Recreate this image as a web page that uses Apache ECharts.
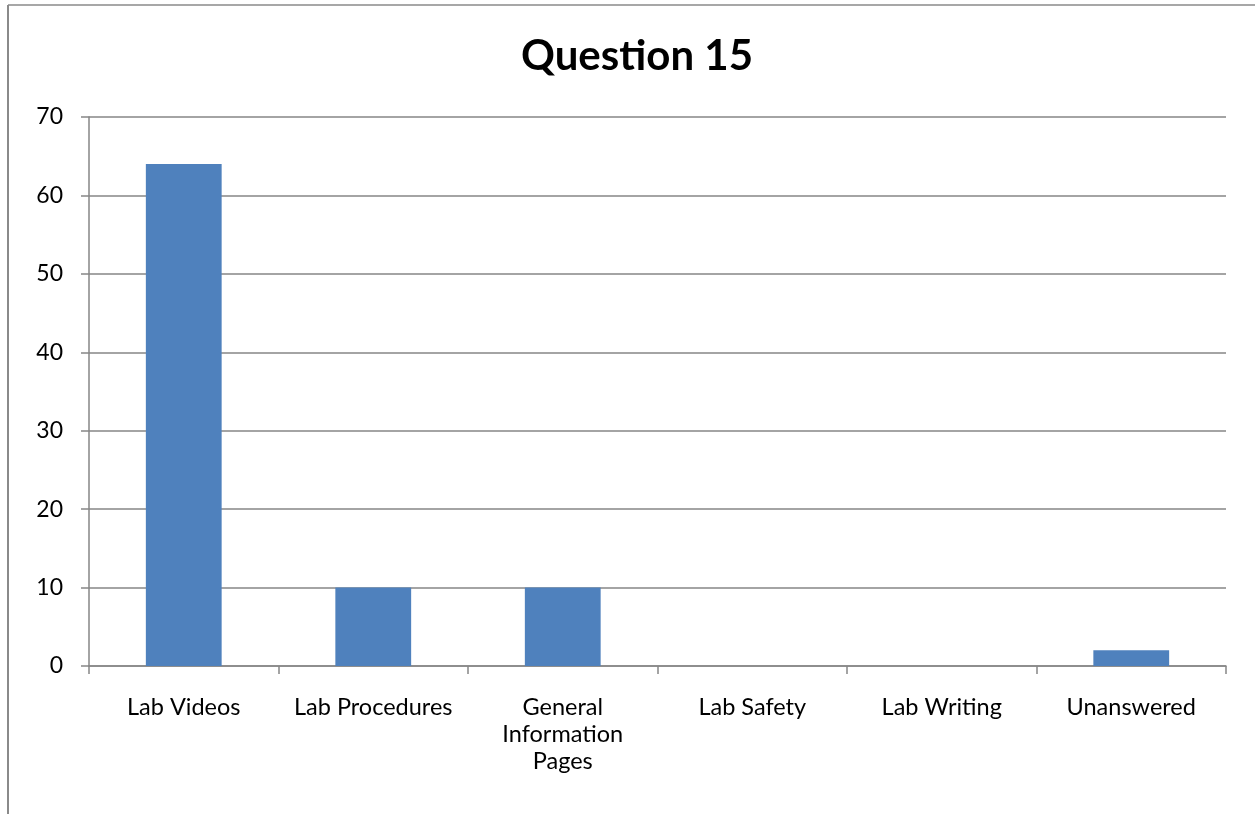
<!DOCTYPE html>
<html>
<head>
<meta charset="utf-8">
<script src="https://cdn.jsdelivr.net/npm/echarts@6/dist/echarts.min.js"></script>
<style>
html,body{margin:0;padding:0;background:#fff;}
#c{width:1255px;height:814px;}
</style>
</head>
<body>
<div id="c"></div>
<script>
const titleText = 'Question 15';
const categories = ['Lab Videos', 'Lab Procedures', 'General Information Pages', 'Lab Safety', 'Lab Writing', 'Unanswered'];
const values = [64, 10, 10, 0, 0, 2];
const yMin = 0, yMax = 70, yStep = 10;

const chart = echarts.init(document.getElementById('c'), null, {renderer: 'canvas'});
const fontFam = 'Lato, "Open Sans", sans-serif';
chart.setOption({
  animation: false,
  backgroundColor: '#fff',
  title: {
    text: titleText,
    left: 632, top: 30, textAlign: 'center',
    textStyle: {fontFamily: fontFam, fontSize: 42, fontWeight: 'bold', color: '#000'}
  },
  graphic: [
    {type: 'line', shape: {x1: 8, y1: 5, x2: 8, y2: 814}, style: {stroke: '#8a8a8a', lineWidth: 2}},
    {type: 'line', shape: {x1: 8, y1: 5, x2: 1255, y2: 5}, style: {stroke: '#8a8a8a', lineWidth: 1.5}}
  ],
  grid: {left: 89, right: 29, top: 117, bottom: 148, containLabel: false},
  xAxis: {
    type: 'category',
    data: categories,
    axisLine: {show: true, lineStyle: {color: '#868686', width: 1.5}},
    axisTick: {show: true, length: 8, alignWithLabel: false, lineStyle: {color: '#868686', width: 1.5}},
    axisLabel: {
      interval: 0, margin: 28, color: '#000', fontFamily: fontFam, fontSize: 23.5,
      lineHeight: 27,
      formatter: function (v) { const w = v.split(' '); return w.length > 2 ? w.join('\n') : v; }
    },
    splitLine: {show: false}
  },
  yAxis: {
    type: 'value', min: yMin, max: yMax, interval: yStep,
    axisLine: {show: true, lineStyle: {color: '#868686', width: 1.5}},
    axisTick: {show: true, length: 8, lineStyle: {color: '#868686', width: 1.5}},
    axisLabel: {margin: 26, color: '#000', fontFamily: fontFam, fontSize: 23},
    splitLine: {show: true, lineStyle: {color: '#868686', width: 1.5}}
  },
  series: [{
    type: 'bar',
    data: values,
    barWidth: '40%',
    itemStyle: {color: '#4F81BD'}
  }]
});
</script>
</body>
</html>
